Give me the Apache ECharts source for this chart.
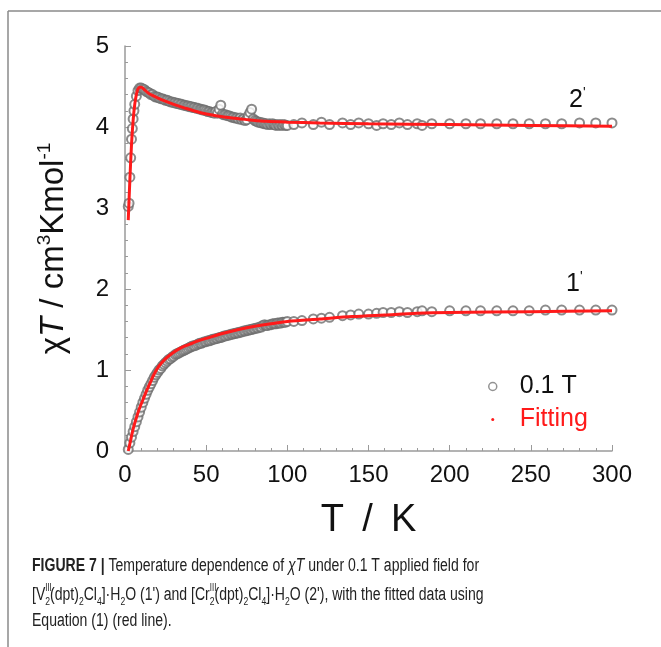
<!DOCTYPE html>
<html>
<head>
<meta charset="utf-8">
<script src="https://cdn.jsdelivr.net/npm/echarts@6/dist/echarts.min.js"></script>
<style>
html, body { margin: 0; padding: 0; background: #fff; }
#main { width: 661px; height: 647px; }
</style>
</head>
<body>
<div id="main"></div>
<script>
// measured chi*T of 2' (Cr), 0.1 T
var temp2 = [2, 2.5, 3, 3.5, 4, 4.5, 5, 5.5, 6, 7, 8, 9,
    10, 11, 12, 13, 14, 15, 16, 17, 18, 19, 20, 21, 22, 23, 24, 25, 26, 27, 28, 29,
    30, 31, 32, 33, 34, 35, 36, 37, 38, 39, 40, 41, 42, 43, 44, 45, 46, 47, 48, 49,
    50, 51, 52, 53, 54, 55, 56, 57, 58, 59, 60, 61, 62, 63, 64, 65, 66, 67, 68, 69,
    70, 71, 72, 73, 74, 75, 76, 77, 78, 79, 80, 81, 82, 83, 84, 85, 86, 87, 88, 89,
    90, 91, 92, 93, 94, 95, 96, 97, 98, 99, 100,
    104, 109, 116, 121, 126, 134, 139, 144, 150, 155, 159, 164, 169, 174, 180, 183, 189,
    200, 210, 219, 229, 239, 249, 259, 269, 280, 290, 300];
var chiT2 = [3.02, 3.06, 3.38, 3.62, 3.85, 3.98, 4.10, 4.20, 4.28, 4.38, 4.45, 4.48,
    4.48, 4.47, 4.46, 4.44, 4.43, 4.42, 4.40, 4.40, 4.38, 4.37, 4.37, 4.36, 4.35, 4.35, 4.34, 4.33, 4.33, 4.32, 4.31, 4.31,
    4.30, 4.30, 4.29, 4.29, 4.28, 4.28, 4.27, 4.27, 4.26, 4.26, 4.25, 4.25, 4.24, 4.24, 4.23, 4.23, 4.22, 4.22, 4.21, 4.21,
    4.20, 4.19, 4.19, 4.18, 4.18, 4.17, 4.19, 4.17, 4.22, 4.27, 4.16, 4.15, 4.15, 4.14, 4.14, 4.13, 4.12, 4.12, 4.11, 4.11,
    4.10, 4.11, 4.09, 4.10, 4.08, 4.09, 4.14, 4.18, 4.22, 4.10, 4.08, 4.07, 4.06, 4.06, 4.05, 4.05, 4.04, 4.04, 4.03, 4.04,
    4.03, 4.04, 4.03, 4.02, 4.03, 4.02, 4.03, 4.02, 4.03, 4.02, 4.02,
    4.03, 4.05, 4.03, 4.06, 4.03, 4.05, 4.03, 4.05, 4.04, 4.02, 4.04, 4.03, 4.05, 4.03, 4.04, 4.02, 4.04,
    4.04, 4.04, 4.04, 4.04, 4.04, 4.04, 4.04, 4.04, 4.05, 4.05, 4.05];

// measured chi*T of 1' (V), 0.1 T
var temp1 = [2, 3, 4, 5, 6, 7, 8, 9,
    10, 11, 12, 13, 14, 15, 16, 17, 18, 19, 20, 21, 22, 23, 24, 25, 26, 27, 28, 29,
    30, 31, 32, 33, 34, 35, 36, 37, 38, 39, 40, 41, 42, 43, 44, 45, 46, 47, 48, 49,
    50, 51, 52, 53, 54, 55, 56, 57, 58, 59, 60, 61, 62, 63, 64, 65, 66, 67, 68, 69,
    70, 71, 72, 73, 74, 75, 76, 77, 78, 79, 80, 81, 82, 83, 84, 85, 86, 87, 88, 89,
    90, 91, 92, 93, 94, 95, 96, 97, 98, 99, 100,
    104, 109, 116, 121, 126, 134, 139, 144, 150, 155, 159, 164, 169, 174, 180, 183, 189,
    200, 210, 219, 229, 239, 249, 259, 269, 280, 290, 300];
var chiT1 = [0.02, 0.10, 0.17, 0.24, 0.30, 0.36, 0.42, 0.48,
    0.54, 0.60, 0.65, 0.70, 0.75, 0.79, 0.83, 0.87, 0.91, 0.94, 0.97, 1.00, 1.02, 1.05, 1.07, 1.09, 1.11, 1.13, 1.14, 1.16,
    1.17, 1.19, 1.20, 1.21, 1.22, 1.23, 1.24, 1.25, 1.26, 1.27, 1.28, 1.29, 1.30, 1.30, 1.31, 1.32, 1.33, 1.33, 1.34, 1.35,
    1.35, 1.36, 1.36, 1.37, 1.38, 1.38, 1.39, 1.39, 1.40, 1.40, 1.41, 1.42, 1.42, 1.43, 1.43, 1.44, 1.44, 1.45, 1.45, 1.46,
    1.46, 1.47, 1.47, 1.48, 1.48, 1.49, 1.49, 1.50, 1.50, 1.51, 1.51, 1.52, 1.52, 1.53, 1.53, 1.55, 1.56, 1.55, 1.55, 1.56,
    1.56, 1.57, 1.57, 1.57, 1.58, 1.58, 1.58, 1.59, 1.59, 1.59, 1.60,
    1.60, 1.61, 1.63, 1.64, 1.65, 1.67, 1.68, 1.69, 1.69, 1.70, 1.71, 1.71, 1.72, 1.71, 1.72, 1.73, 1.72,
    1.73, 1.73, 1.73, 1.73, 1.73, 1.73, 1.74, 1.74, 1.74, 1.74, 1.74];

// fitted curves (red)
var fitTemp2 = [2, 3, 4, 5, 6, 7, 8, 9, 10, 12, 15, 20, 26, 30, 36, 46, 56, 66, 76, 87, 100, 120, 150, 200, 250, 300];
var fitChiT2 = [2.85, 3.35, 3.78, 4.08, 4.28, 4.40, 4.47, 4.49, 4.49, 4.46, 4.41, 4.36, 4.31, 4.28, 4.24, 4.18, 4.14, 4.11, 4.09, 4.07, 4.06, 4.05, 4.04, 4.03, 4.02, 4.01];
var fitTemp1 = [2, 3, 5, 7, 9, 11, 13, 15, 18, 21, 25, 30, 35, 40, 45, 50, 60, 70, 80, 90, 100, 120, 140, 160, 180, 200, 250, 300];
var fitChiT1 = [0.00, 0.09, 0.27, 0.41, 0.53, 0.63, 0.73, 0.82, 0.95, 1.05, 1.14, 1.22, 1.28, 1.32, 1.36, 1.39, 1.45, 1.50, 1.54, 1.57, 1.60, 1.63, 1.66, 1.68, 1.70, 1.71, 1.72, 1.73];

function pairs(xs, ys) {
    return xs.map(function (x, i) { return [x, ys[i]]; });
}

var myChart = echarts.init(document.getElementById('main'));

var FONT = '"Liberation Sans", Arial, sans-serif';
var axisGray = '#9a9a9a';
var CAP_SCALE = 0.78;

var option = {
    backgroundColor: '#fff',
    animation: false,
    grid: { left: 125, right: 49, top: 46, bottom: 196 },
    legend: {
        orient: 'vertical',
        left: 482,
        top: 369,
        itemWidth: 27,
        itemHeight: 10,
        itemGap: 8,
        textStyle: { fontFamily: FONT, fontSize: 25, color: '#111' },
        data: [
            {
                name: '0.1 T',
                icon: 'path://M0,0M27,10M1,5a4,4 0 1,0 8,0a4,4 0 1,0 -8,0',
                itemStyle: { color: '#fff', borderColor: '#777', borderWidth: 1.5 }
            },
            {
                name: 'Fitting',
                icon: 'path://M0,0M27,10M3.5,5a1.5,1.5 0 1,0 3,0a1.5,1.5 0 1,0 -3,0',
                itemStyle: { color: '#ff1a1a', borderWidth: 0 },
                textStyle: { color: '#ff1a1a' }
            }
        ]
    },
    xAxis: {
        type: 'value',
        min: 0,
        max: 300,
        interval: 50,
        name: 'T \u2009/ \u2009K',
        nameLocation: 'middle',
        nameGap: 51,
        nameTextStyle: { fontFamily: FONT, fontSize: 38, color: '#111' },
        axisLine: { show: true, lineStyle: { color: axisGray, width: 1.5 } },
        axisTick: { show: true, inside: true, length: 6, lineStyle: { color: axisGray } },
        minorTick: { show: true, splitNumber: 5, length: 3, lineStyle: { color: axisGray } },
        axisLabel: { fontFamily: FONT, fontSize: 24, color: '#111', margin: 12 },
        splitLine: { show: false }
    },
    yAxis: {
        type: 'value',
        min: 0,
        max: 5,
        interval: 1,
        name: '{g|χ}{i|T} / cm{s|3}Kmol{s|-1}',
        nameLocation: 'middle',
        nameRotate: 90,
        nameGap: 52,
        nameTextStyle: {
            fontFamily: FONT, fontSize: 33, color: '#111',
            rich: {
                g: { fontFamily: FONT, fontSize: 33, color: '#111' },
                i: { fontFamily: FONT, fontSize: 33, fontStyle: 'italic', color: '#111' },
                s: { fontFamily: FONT, fontSize: 19, color: '#111', verticalAlign: 'top', lineHeight: 38 }
            }
        },
        axisLine: { show: true, lineStyle: { color: axisGray, width: 1.5 } },
        axisTick: { show: true, inside: true, length: 6, lineStyle: { color: axisGray } },
        minorTick: { show: true, splitNumber: 5, length: 3, lineStyle: { color: axisGray } },
        axisLabel: { fontFamily: FONT, fontSize: 24, color: '#111', margin: 16 },
        splitLine: { show: false }
    },
    series: [
        {
            name: '0.1 T',
            type: 'scatter',
            symbol: 'emptyCircle',
            symbolSize: 9,
            itemStyle: { color: '#6e6e6e', borderWidth: 1.2 },
            data: pairs(temp2, chiT2)
        },
        {
            name: '0.1 T',
            type: 'scatter',
            symbol: 'emptyCircle',
            symbolSize: 9,
            itemStyle: { color: '#6e6e6e', borderWidth: 1.2 },
            data: pairs(temp1, chiT1)
        },
        {
            name: 'Fitting',
            type: 'line',
            showSymbol: false,
            smooth: 0.3,
            lineStyle: { color: '#ff1a1a', width: 3 },
            itemStyle: { color: '#ff1a1a' },
            z: 5,
            data: pairs(fitTemp2, fitChiT2)
        },
        {
            name: 'Fitting',
            type: 'line',
            showSymbol: false,
            smooth: 0.3,
            lineStyle: { color: '#ff1a1a', width: 3 },
            itemStyle: { color: '#ff1a1a' },
            z: 5,
            data: pairs(fitTemp1, fitChiT1)
        }
    ],
    graphic: [
        // figure frame
        { type: 'line', shape: { x1: 8, y1: 11, x2: 661, y2: 11 }, style: { stroke: '#8a8a8a', lineWidth: 1.5 } },
        { type: 'line', shape: { x1: 8, y1: 11, x2: 8, y2: 647 }, style: { stroke: '#8a8a8a', lineWidth: 1.5 } },
        // curve labels
        {
            type: 'text', left: 569, top: 86,
            style: { text: '2{p|\'}', fontFamily: FONT, fontSize: 25, fill: '#111',
                rich: { p: { fontFamily: FONT, fontSize: 14, fill: '#111', verticalAlign: 'top', lineHeight: 28 } } }
        },
        {
            type: 'text', left: 566, top: 270,
            style: { text: '1{p|\'}', fontFamily: FONT, fontSize: 25, fill: '#111',
                rich: { p: { fontFamily: FONT, fontSize: 14, fill: '#111', verticalAlign: 'top', lineHeight: 28 } } }
        },
        // caption (condensed via scaleX)
        {
            type: 'text', x: 32, y: 557, scaleX: CAP_SCALE,
            style: {
                text: '{b|FIGURE 7 |} Temperature dependence of {i|χT} under 0.1 T applied field for',
                fontFamily: FONT, fontSize: 18, fill: '#222', verticalAlign: 'top',
                rich: {
                    b: { fontFamily: FONT, fontSize: 18, fontWeight: 'bold', fill: '#222' },
                    i: { fontFamily: FONT, fontSize: 18, fontStyle: 'italic', fill: '#222' }
                }
            }
        },
        {
            type: 'text', x: 32, y: 583, scaleX: CAP_SCALE,
            style: {
                text: '[V{up|III}{dn|2}(dpt){dn|2}Cl{dn|4}]·H{dn|2}O (1\') and [Cr{up|III}{dn|2}(dpt){dn|2}Cl{dn|4}]·H{dn|2}O (2\'), with the fitted data using',
                fontFamily: FONT, fontSize: 18, fill: '#222', lineHeight: 24, verticalAlign: 'top',
                rich: {
                    up: { fontFamily: FONT, fontSize: 10, fill: '#222', verticalAlign: 'top', lineHeight: 24, width: 0, align: 'left' },
                    dn: { fontFamily: FONT, fontSize: 11, fill: '#222', verticalAlign: 'bottom', lineHeight: 24 }
                }
            }
        },
        {
            type: 'text', x: 32, y: 612, scaleX: CAP_SCALE,
            style: { text: 'Equation (1) (red line).', fontFamily: FONT, fontSize: 18, fill: '#222', verticalAlign: 'top' }
        }
    ]
};

myChart.setOption(option);
</script>
</body>
</html>
